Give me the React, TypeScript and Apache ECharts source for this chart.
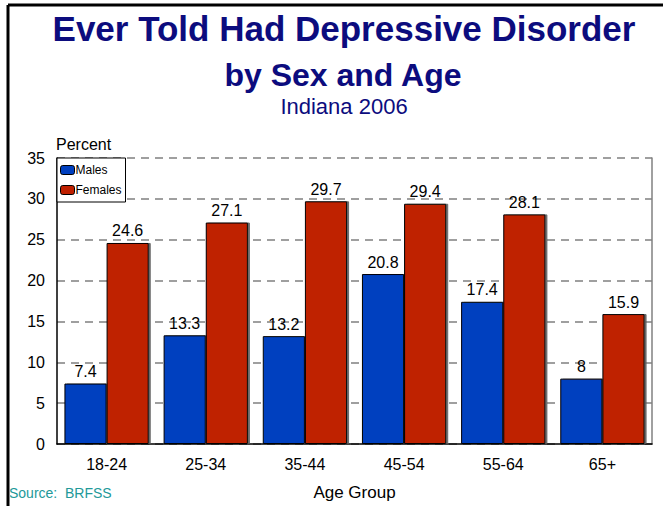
import React, { useEffect, useRef } from "react";
import * as echarts from "echarts";

const categories = ["18-24", "25-34", "35-44", "45-54", "55-64", "65+"];
const males = [7.4, 13.3, 13.2, 20.8, 17.4, 8];
const females = [24.6, 27.1, 29.7, 29.4, 28.1, 15.9];
const seriesNames = ["Males", "Females"];

export default function App() {
  const ref = useRef<HTMLDivElement>(null);
  useEffect(() => {
    const chart = echarts.init(ref.current!, null, { renderer: "svg" });
    const font = "Arial, 'Liberation Sans', sans-serif";
    const labelCfg = {
      show: true,
      position: "top" as const,
      distance: 4,
      color: "#000",
      fontSize: 16,
      fontFamily: font,
    };
    const itemBase = {
      borderColor: "#000",
      borderWidth: 1,
      shadowColor: "rgba(90,90,90,0.9)",
      shadowOffsetX: 2,
      shadowOffsetY: 0,
      shadowBlur: 0,
    };
    chart.setOption({
      animation: false,
      backgroundColor: "#fff",
      textStyle: { fontFamily: font },
      title: [
        {
          text: "Ever Told Had Depressive Disorder",
          left: 339,
          textAlign: "center",
          top: 6,
          textStyle: { fontSize: 35, fontWeight: "bold", color: "#0c0c7e", fontFamily: font },
        },
        {
          text: "by Sex and Age",
          left: 338,
          textAlign: "center",
          top: 54,
          textStyle: { fontSize: 32, fontWeight: "bold", color: "#0c0c7e", fontFamily: font },
        },
        {
          text: "Indiana 2006",
          left: 339,
          textAlign: "center",
          top: 90,
          textStyle: { fontSize: 22, fontWeight: "normal", color: "#0c0c7e", fontFamily: font },
        },
      ],
      legend: {
        data: seriesNames,
        orient: "vertical",
        left: 57,
        top: 158,
        itemWidth: 14,
        itemHeight: 9,
        itemGap: 8,
        padding: [6, 4, 6, 3],
        backgroundColor: "#fff",
        borderColor: "#000",
        borderWidth: 1,
        textStyle: { fontSize: 12, color: "#000", fontFamily: font, padding: [0, 0, 0, -4] },
        itemStyle: { borderColor: "#000", borderWidth: 1, shadowBlur: 0, shadowOffsetX: 0 },
      },
      grid: { left: 57, right: 11, top: 158, bottom: 60, containLabel: false },
      xAxis: {
        type: "category",
        data: categories,
        name: "Age Group",
        nameLocation: "middle",
        nameGap: 40,
        nameTextStyle: { fontSize: 17, color: "#000", fontFamily: font },
        axisLine: { lineStyle: { color: "#000", width: 1.5 } },
        axisTick: { show: false },
        axisLabel: { fontSize: 16, color: "#000", margin: 12, fontFamily: font },
      },
      yAxis: [
        {
          type: "value",
          min: 0,
          max: 35,
          interval: 5,
          name: "Percent",
          nameLocation: "end",
          nameGap: 6,
          nameTextStyle: { fontSize: 16, color: "#000", align: "left", padding: [0, 0, 0, -1], fontFamily: font },
          axisLine: { show: true, lineStyle: { color: "#000", width: 1.5 } },
          axisTick: { show: false },
          axisLabel: { fontSize: 16, color: "#000", margin: 12, fontFamily: font },
          splitLine: { show: true, lineStyle: { color: "#808080", type: [8, 6], width: 1.5 } },
        },
        {
          type: "value",
          min: 0,
          max: 35,
          interval: 5,
          position: "right",
          axisLine: { show: true, lineStyle: { color: "#808080", width: 1.5 } },
          axisTick: { show: false },
          axisLabel: { show: false },
          splitLine: { show: false },
        },
      ],
      series: [
        {
          name: seriesNames[0],
          type: "bar",
          data: males,
          barGap: "0%",
          barCategoryGap: "15%",
          itemStyle: { color: "#003fbf", ...itemBase },
          label: labelCfg,
        },
        {
          name: seriesNames[1],
          type: "bar",
          data: females,
          barGap: "0%",
          barCategoryGap: "15%",
          itemStyle: { color: "#bf2000", ...itemBase },
          label: labelCfg,
        },
      ],
      graphic: [
        {
          type: "line",
          shape: { x1: 8, y1: 5, x2: 663, y2: 5 },
          style: { stroke: "#000", lineWidth: 3 },
        },
        {
          type: "line",
          shape: { x1: 8, y1: 5, x2: 8, y2: 506 },
          style: { stroke: "#000", lineWidth: 3 },
        },
        {
          type: "text",
          left: 9,
          top: 486,
          style: { text: "Source:  BRFSS", fontSize: 14, fill: "#229999", fontFamily: font },
        },
      ],
    });
    return () => chart.dispose();
  }, []);
  return <div ref={ref} style={{ width: 663, height: 506, position: "fixed", left: 0, top: 0 }} />;
}
